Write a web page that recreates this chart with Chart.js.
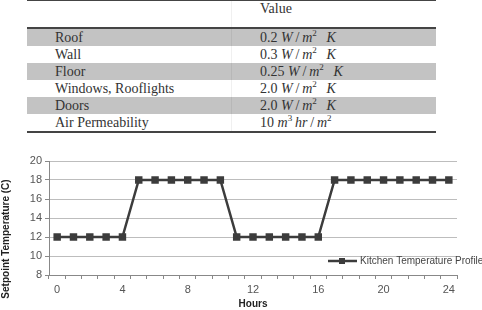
<!DOCTYPE html>
<html>
<head>
<meta charset="utf-8">
<script src="https://cdn.jsdelivr.net/npm/chart.js@4.4.1/dist/chart.umd.min.js"></script>
<style>
  body { margin: 0; background: #fff; width: 482px; height: 310px; overflow: hidden; position: relative; }
  .tbl { position: absolute; left: 27px; top: 0; width: 409px; font-family: "Liberation Serif", "Times New Roman", serif; font-size: 14px; color: #333; }
  .row { display: flex; height: 17px; line-height: 17px; }
  .row div { box-sizing: border-box; }
  .c1 { width: 204px; padding-left: 28px; }
  .c2 { width: 205px; padding-left: 28px; border-left: 1px solid rgba(0,0,0,0.06); }
  .head { height: 26px; line-height: 16px; border-top: 1px solid #444; border-bottom: 2px solid #444; }
  .gray { background: #c3c3c3; }
  .last { border-bottom: 2px solid #444; }
  i { font-style: italic; }
  sup { font-size: 9px; line-height: 0; }
  #wrap { position: absolute; left: 0; top: 150px; width: 482px; height: 160px; }
</style>
</head>
<body>
<div class="tbl" id="tbl"></div>
<div id="wrap"><canvas id="myChart" width="482" height="160"></canvas></div>
<script>
// table
const elements = ['Roof', 'Wall', 'Floor', 'Windows, Rooflights', 'Doors', 'Air Permeability']
const uNumbers = ['0.2', '0.3', '0.25', '2.0', '2.0', '10']
const uUnits = ['W/m2 K', 'W/m2 K', 'W/m2 K', 'W/m2 K', 'W/m2 K', 'm3 hr/m2']

function unitHtml(u) {
    if (u == 'W/m2 K') return '<i>W</i>&thinsp;/&thinsp;<i>m</i><sup>2</sup>&ensp;&thinsp;<i>K</i>'
    return '<i>m</i><sup>3</sup>&thinsp;<i>hr</i>&thinsp;/&thinsp;<i>m</i><sup>2</sup>'
}

// chart
const hours = ['0','1','2','3','4','5','6','7','8','9','10','11','12','13','14','15','16','17','18','19','20','21','22','23','24']
const kitchenTemp = [12,12,12,12,12,18,18,18,18,18,18,12,12,12,12,12,12,18,18,18,18,18,18,18,18]
const seriesName = 'Kitchen Temperature Profile'
const yTitle = 'Setpoint Temperature (C)'
const xTitle = 'Hours'

var html = '<div class="row head"><div class="c1"></div><div class="c2">Value</div></div>'
elements.forEach((el, i) => {
    var cls = 'row' + (i % 2 == 0 ? ' gray' : '') + (i == elements.length - 1 ? ' last' : '')
    html += '<div class="' + cls + '"><div class="c1">' + el + '</div><div class="c2">' + uNumbers[i] + ' ' + unitHtml(uUnits[i]) + '</div></div>'
})
document.getElementById('tbl').innerHTML = html

const lineColor = '#3c3c3c'

const extras = {
    id: 'extras',
    afterDraw(chart) {
        const { ctx, chartArea: { bottom } } = chart
        ctx.save()
        // legend inside plot
        const ly = bottom - 14
        ctx.strokeStyle = lineColor
        ctx.lineWidth = 2.5
        ctx.beginPath()
        ctx.moveTo(328, ly)
        ctx.lineTo(357, ly)
        ctx.stroke()
        ctx.fillStyle = lineColor
        ctx.fillRect(339, ly - 3, 6, 6)
        ctx.font = '10px "Liberation Sans", Arial, sans-serif'
        ctx.fillStyle = '#444'
        ctx.textBaseline = 'middle'
        ctx.fillText(chart.data.datasets[0].label, 360, ly)
        // y title
        ctx.translate(6, 89)
        ctx.rotate(-Math.PI / 2)
        ctx.font = 'bold 10px "Liberation Sans", Arial, sans-serif'
        ctx.fillStyle = '#222'
        ctx.textAlign = 'center'
        ctx.fillText(yTitle, 0, 0)
        ctx.restore()
    }
}

const config = {
    type: 'line',
    data: {
        labels: hours,
        datasets: [{
            label: seriesName,
            data: kitchenTemp,
            borderColor: lineColor,
            backgroundColor: lineColor,
            borderWidth: 2.5,
            pointStyle: 'rect',
            pointRadius: 3.5,
            tension: 0
        }]
    },
    options: {
        responsive: false,
        animation: false,
        layout: { padding: { top: 11, right: 25, left: 0, bottom: 0 } },
        plugins: { legend: { display: false }, tooltip: { enabled: false } },
        scales: {
            x: {
                offset: true,
                grid: { offset: true, drawOnChartArea: false, drawTicks: true, tickLength: 4, color: '#888' },
                border: { color: '#888', width: 1 },
                ticks: {
                    autoSkip: false, maxRotation: 0, padding: 4,
                    color: '#555', font: { family: '"Liberation Sans", Arial', size: 11 },
                    callback: function(val, i) { return i % 4 == 0 ? hours[i] : '' }
                },
                title: { display: true, text: xTitle, color: '#222', padding: 0, font: { family: '"Liberation Sans", Arial', size: 10, weight: 'bold' } },
                afterFit(scale) { scale.height = 35 }
            },
            y: {
                min: 8, max: 20,
                ticks: { stepSize: 2, padding: 3, color: '#555', font: { family: '"Liberation Sans", Arial', size: 11 } },
                grid: { color: '#bdbdbd', tickLength: 4, tickColor: '#888' },
                border: { color: '#888', width: 1 },
                afterFit(scale) { scale.width = 49 }
            }
        }
    },
    plugins: [extras]
}

new Chart(document.getElementById('myChart'), config)
</script>
</body>
</html>
